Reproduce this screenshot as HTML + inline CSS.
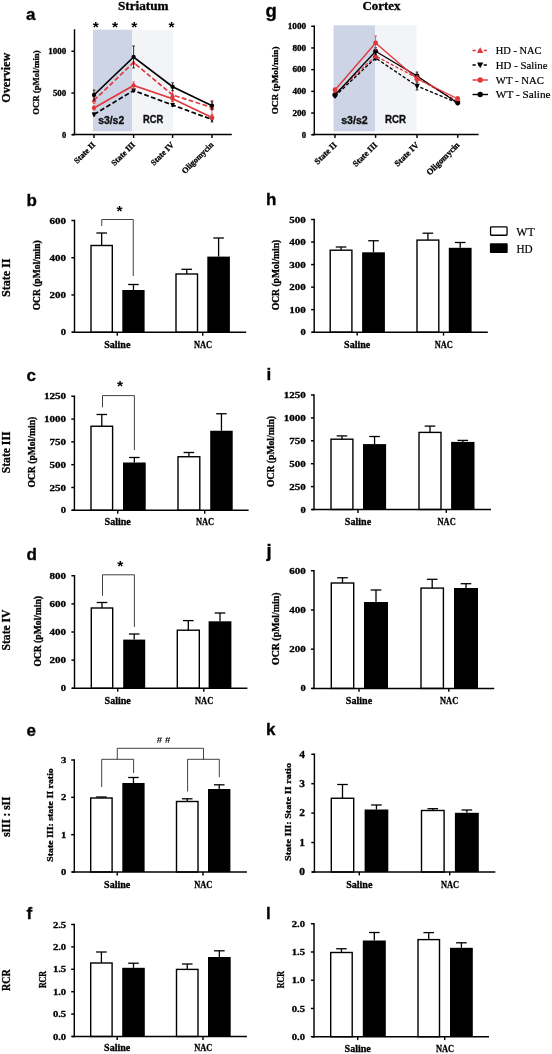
<!DOCTYPE html>
<html lang="en"><head><meta charset="utf-8"><title>Figure: Striatum and Cortex respiration</title>
<style>html,body{margin:0;padding:0;background:#fff}svg{display:block}.s{font-family:"Liberation Serif", serif;font-weight:bold;stroke:#000;stroke-width:.3px}.n{font-family:"Liberation Serif", serif;font-weight:normal;stroke:#000;stroke-width:.2px}.a{font-family:"Liberation Sans", sans-serif;font-weight:bold}.b{font-family:"Liberation Sans", sans-serif;font-weight:bold;stroke:#111;stroke-width:.35px}</style></head><body>
<svg width="552" height="1054" viewBox="0 0 552 1054">
<rect width="552" height="1054" fill="#fff"/>
<text class="s" x="118.00" y="9.50" font-size="12" textLength="50.5" lengthAdjust="spacingAndGlyphs">Striatum</text>
<text class="s" x="362.50" y="9.50" font-size="12" textLength="38.0" lengthAdjust="spacingAndGlyphs">Cortex</text>
<text class="s" x="10.00" y="77.70" font-size="12" text-anchor="middle" textLength="50.0" lengthAdjust="spacingAndGlyphs" transform="rotate(-90 10.00 77.70)">Overview</text>
<!-- panel a -->
<text class="b" x="25.90" y="20.20" font-size="17">a</text>
<rect x="93" y="29.7" width="39.00" height="101.60" fill="#ccd4e5"/>
<rect x="132" y="29.7" width="41.00" height="101.60" fill="#f3f4f7"/>
<text class="b" x="98.20" y="124.00" font-size="10.3" textLength="26.0" lengthAdjust="spacingAndGlyphs" fill="#111">s3/s2</text>
<text class="b" x="143.00" y="122.70" font-size="10.3" textLength="20.3" lengthAdjust="spacingAndGlyphs" fill="#111">RCR</text>
<line x1="74.50" y1="29.27" x2="74.50" y2="135.22" stroke="#000" stroke-width="1.45"/>
<line x1="72.00" y1="134.50" x2="231.80" y2="134.50" stroke="#000" stroke-width="1.45"/>
<line x1="71.40" y1="51.25" x2="74.50" y2="51.25" stroke="#000" stroke-width="1.45"/>
<text class="s" x="66.20" y="54.00" font-size="8.2" text-anchor="end" textLength="17.9" lengthAdjust="spacingAndGlyphs">1000</text>
<line x1="71.40" y1="93.00" x2="74.50" y2="93.00" stroke="#000" stroke-width="1.45"/>
<text class="s" x="66.20" y="95.75" font-size="8.2" text-anchor="end" textLength="13.3" lengthAdjust="spacingAndGlyphs">500</text>
<line x1="71.40" y1="134.75" x2="74.50" y2="134.75" stroke="#000" stroke-width="1.45"/>
<text class="s" x="66.20" y="137.50" font-size="8.2" text-anchor="end" textLength="4.2" lengthAdjust="spacingAndGlyphs">0</text>
<line x1="94.00" y1="134.50" x2="94.00" y2="137.90" stroke="#000" stroke-width="1.45"/>
<line x1="133.60" y1="134.50" x2="133.60" y2="137.90" stroke="#000" stroke-width="1.45"/>
<line x1="172.60" y1="134.50" x2="172.60" y2="137.90" stroke="#000" stroke-width="1.45"/>
<line x1="212.00" y1="134.50" x2="212.00" y2="137.90" stroke="#000" stroke-width="1.45"/>
<line x1="94.00" y1="113.00" x2="94.00" y2="116.00" stroke="#000" stroke-width="0.8"/>
<line x1="92.70" y1="113.00" x2="95.30" y2="113.00" stroke="#000" stroke-width="0.8"/>
<line x1="92.70" y1="116.00" x2="95.30" y2="116.00" stroke="#000" stroke-width="0.8"/>
<line x1="133.60" y1="89.00" x2="133.60" y2="92.00" stroke="#000" stroke-width="0.8"/>
<line x1="132.30" y1="89.00" x2="134.90" y2="89.00" stroke="#000" stroke-width="0.8"/>
<line x1="132.30" y1="92.00" x2="134.90" y2="92.00" stroke="#000" stroke-width="0.8"/>
<line x1="172.60" y1="103.50" x2="172.60" y2="106.50" stroke="#000" stroke-width="0.8"/>
<line x1="171.30" y1="103.50" x2="173.90" y2="103.50" stroke="#000" stroke-width="0.8"/>
<line x1="171.30" y1="106.50" x2="173.90" y2="106.50" stroke="#000" stroke-width="0.8"/>
<line x1="212.00" y1="117.00" x2="212.00" y2="122.00" stroke="#000" stroke-width="0.8"/>
<line x1="210.70" y1="117.00" x2="213.30" y2="117.00" stroke="#000" stroke-width="0.8"/>
<line x1="210.70" y1="122.00" x2="213.30" y2="122.00" stroke="#000" stroke-width="0.8"/>
<polyline points="94.00,114.50 133.60,90.50 172.60,105.00 212.00,119.50" fill="none" stroke="#000" stroke-width="1.7" stroke-dasharray="4.8 2.4"/>
<polygon points="91.53,112.60 96.47,112.60 94.00,117.06" fill="#000"/>
<polygon points="131.13,88.60 136.07,88.60 133.60,93.06" fill="#000"/>
<polygon points="170.13,103.10 175.07,103.10 172.60,107.56" fill="#000"/>
<polygon points="209.53,117.60 214.47,117.60 212.00,122.06" fill="#000"/>
<line x1="94.00" y1="106.00" x2="94.00" y2="110.00" stroke="#e0383c" stroke-width="0.8"/>
<line x1="92.70" y1="106.00" x2="95.30" y2="106.00" stroke="#e0383c" stroke-width="0.8"/>
<line x1="92.70" y1="110.00" x2="95.30" y2="110.00" stroke="#e0383c" stroke-width="0.8"/>
<line x1="133.60" y1="82.00" x2="133.60" y2="89.00" stroke="#e0383c" stroke-width="0.8"/>
<line x1="132.30" y1="82.00" x2="134.90" y2="82.00" stroke="#e0383c" stroke-width="0.8"/>
<line x1="132.30" y1="89.00" x2="134.90" y2="89.00" stroke="#e0383c" stroke-width="0.8"/>
<line x1="172.60" y1="96.25" x2="172.60" y2="101.25" stroke="#e0383c" stroke-width="0.8"/>
<line x1="171.30" y1="96.25" x2="173.90" y2="96.25" stroke="#e0383c" stroke-width="0.8"/>
<line x1="171.30" y1="101.25" x2="173.90" y2="101.25" stroke="#e0383c" stroke-width="0.8"/>
<line x1="212.00" y1="115.50" x2="212.00" y2="119.50" stroke="#e0383c" stroke-width="0.8"/>
<line x1="210.70" y1="115.50" x2="213.30" y2="115.50" stroke="#e0383c" stroke-width="0.8"/>
<line x1="210.70" y1="119.50" x2="213.30" y2="119.50" stroke="#e0383c" stroke-width="0.8"/>
<polyline points="94.00,108.00 133.60,85.50 172.60,98.75 212.00,117.50" fill="none" stroke="#e0383c" stroke-width="1.7"/>
<circle cx="94.00" cy="108.00" r="2.14" fill="#e0383c"/>
<circle cx="133.60" cy="85.50" r="2.14" fill="#e0383c"/>
<circle cx="172.60" cy="98.75" r="2.14" fill="#e0383c"/>
<circle cx="212.00" cy="117.50" r="2.14" fill="#e0383c"/>
<line x1="94.00" y1="97.30" x2="94.00" y2="103.30" stroke="#e0383c" stroke-width="0.8"/>
<line x1="92.70" y1="97.30" x2="95.30" y2="97.30" stroke="#e0383c" stroke-width="0.8"/>
<line x1="92.70" y1="103.30" x2="95.30" y2="103.30" stroke="#e0383c" stroke-width="0.8"/>
<line x1="172.60" y1="88.00" x2="172.60" y2="102.00" stroke="#e0383c" stroke-width="0.8"/>
<line x1="171.30" y1="88.00" x2="173.90" y2="88.00" stroke="#e0383c" stroke-width="0.8"/>
<line x1="171.30" y1="102.00" x2="173.90" y2="102.00" stroke="#e0383c" stroke-width="0.8"/>
<line x1="212.00" y1="100.50" x2="212.00" y2="114.50" stroke="#e0383c" stroke-width="0.8"/>
<line x1="210.70" y1="100.50" x2="213.30" y2="100.50" stroke="#e0383c" stroke-width="0.8"/>
<line x1="210.70" y1="114.50" x2="213.30" y2="114.50" stroke="#e0383c" stroke-width="0.8"/>
<polyline points="94.00,100.30 133.60,62.50 172.60,95.00 212.00,107.50" fill="none" stroke="#e0383c" stroke-width="1.7" stroke-dasharray="4.8 2.4"/>
<polygon points="91.53,102.20 96.47,102.20 94.00,97.73" fill="#e0383c"/>
<polygon points="131.13,64.40 136.07,64.40 133.60,59.94" fill="#e0383c"/>
<polygon points="170.13,96.90 175.07,96.90 172.60,92.44" fill="#e0383c"/>
<polygon points="209.53,109.40 214.47,109.40 212.00,104.94" fill="#e0383c"/>
<line x1="94.00" y1="90.00" x2="94.00" y2="100.00" stroke="#000" stroke-width="0.8"/>
<line x1="92.70" y1="90.00" x2="95.30" y2="90.00" stroke="#000" stroke-width="0.8"/>
<line x1="92.70" y1="100.00" x2="95.30" y2="100.00" stroke="#000" stroke-width="0.8"/>
<line x1="133.60" y1="46.00" x2="133.60" y2="68.00" stroke="#000" stroke-width="0.8"/>
<line x1="132.30" y1="46.00" x2="134.90" y2="46.00" stroke="#000" stroke-width="0.8"/>
<line x1="132.30" y1="68.00" x2="134.90" y2="68.00" stroke="#000" stroke-width="0.8"/>
<line x1="172.60" y1="82.75" x2="172.60" y2="90.75" stroke="#000" stroke-width="0.8"/>
<line x1="171.30" y1="82.75" x2="173.90" y2="82.75" stroke="#000" stroke-width="0.8"/>
<line x1="171.30" y1="90.75" x2="173.90" y2="90.75" stroke="#000" stroke-width="0.8"/>
<line x1="212.00" y1="101.75" x2="212.00" y2="109.75" stroke="#000" stroke-width="0.8"/>
<line x1="210.70" y1="101.75" x2="213.30" y2="101.75" stroke="#000" stroke-width="0.8"/>
<line x1="210.70" y1="109.75" x2="213.30" y2="109.75" stroke="#000" stroke-width="0.8"/>
<polyline points="94.00,95.00 133.60,57.00 172.60,86.75 212.00,105.75" fill="none" stroke="#000" stroke-width="1.7"/>
<circle cx="94.00" cy="95.00" r="2.14" fill="#000"/>
<circle cx="133.60" cy="57.00" r="2.14" fill="#000"/>
<circle cx="172.60" cy="86.75" r="2.14" fill="#000"/>
<circle cx="212.00" cy="105.75" r="2.14" fill="#000"/>
<text class="s" x="95.90" y="145.30" font-size="8.25" text-anchor="end" transform="rotate(-45 95.90 145.30)">State II</text>
<text class="s" x="135.50" y="145.30" font-size="8.25" text-anchor="end" transform="rotate(-45 135.50 145.30)">State III</text>
<text class="s" x="174.50" y="145.30" font-size="8.25" text-anchor="end" transform="rotate(-45 174.50 145.30)">State IV</text>
<text class="s" x="213.90" y="145.30" font-size="8.25" text-anchor="end" transform="rotate(-45 213.90 145.30)">Oligomycin</text>
<text class="s" x="39.00" y="82.60" font-size="9" text-anchor="middle" textLength="64.4" lengthAdjust="spacingAndGlyphs" transform="rotate(-90 39.00 82.60)">OCR (pMol/min)</text>
<text class="a" x="95.70" y="32.36" font-size="15.5" text-anchor="middle">*</text>
<text class="a" x="115.00" y="32.36" font-size="15.5" text-anchor="middle">*</text>
<text class="a" x="134.30" y="32.36" font-size="15.5" text-anchor="middle">*</text>
<text class="a" x="171.40" y="32.36" font-size="15.5" text-anchor="middle">*</text>
<!-- panel g -->
<text class="b" x="265.60" y="16.70" font-size="18.5">g</text>
<rect x="333.5" y="25.3" width="41.50" height="106.00" fill="#ccd4e5"/>
<rect x="375" y="25.3" width="41.50" height="106.00" fill="#f3f4f7"/>
<text class="b" x="341.20" y="124.00" font-size="10.3" textLength="26.5" lengthAdjust="spacingAndGlyphs" fill="#111">s3/s2</text>
<text class="b" x="385.00" y="122.70" font-size="10.3" textLength="21.0" lengthAdjust="spacingAndGlyphs" fill="#111">RCR</text>
<line x1="314.30" y1="25.52" x2="314.30" y2="135.22" stroke="#000" stroke-width="1.45"/>
<line x1="312.00" y1="134.50" x2="478.60" y2="134.50" stroke="#000" stroke-width="1.45"/>
<line x1="311.20" y1="26.25" x2="314.30" y2="26.25" stroke="#000" stroke-width="1.45"/>
<text class="s" x="306.20" y="29.00" font-size="8.2" text-anchor="end" textLength="18.5" lengthAdjust="spacingAndGlyphs">1000</text>
<line x1="311.20" y1="47.95" x2="314.30" y2="47.95" stroke="#000" stroke-width="1.45"/>
<text class="s" x="306.20" y="50.70" font-size="8.2" text-anchor="end" textLength="13.8" lengthAdjust="spacingAndGlyphs">800</text>
<line x1="311.20" y1="69.65" x2="314.30" y2="69.65" stroke="#000" stroke-width="1.45"/>
<text class="s" x="306.20" y="72.40" font-size="8.2" text-anchor="end" textLength="13.8" lengthAdjust="spacingAndGlyphs">600</text>
<line x1="311.20" y1="91.35" x2="314.30" y2="91.35" stroke="#000" stroke-width="1.45"/>
<text class="s" x="306.20" y="94.10" font-size="8.2" text-anchor="end" textLength="13.8" lengthAdjust="spacingAndGlyphs">400</text>
<line x1="311.20" y1="113.05" x2="314.30" y2="113.05" stroke="#000" stroke-width="1.45"/>
<text class="s" x="306.20" y="115.80" font-size="8.2" text-anchor="end" textLength="13.8" lengthAdjust="spacingAndGlyphs">200</text>
<line x1="311.20" y1="134.75" x2="314.30" y2="134.75" stroke="#000" stroke-width="1.45"/>
<text class="s" x="306.20" y="137.50" font-size="8.2" text-anchor="end" textLength="4.4" lengthAdjust="spacingAndGlyphs">0</text>
<line x1="335.00" y1="134.50" x2="335.00" y2="137.90" stroke="#000" stroke-width="1.45"/>
<line x1="375.60" y1="134.50" x2="375.60" y2="137.90" stroke="#000" stroke-width="1.45"/>
<line x1="417.00" y1="134.50" x2="417.00" y2="137.90" stroke="#000" stroke-width="1.45"/>
<line x1="457.70" y1="134.50" x2="457.70" y2="137.90" stroke="#000" stroke-width="1.45"/>
<line x1="335.00" y1="94.50" x2="335.00" y2="97.50" stroke="#000" stroke-width="0.8"/>
<line x1="333.70" y1="94.50" x2="336.30" y2="94.50" stroke="#000" stroke-width="0.8"/>
<line x1="333.70" y1="97.50" x2="336.30" y2="97.50" stroke="#000" stroke-width="0.8"/>
<line x1="375.60" y1="56.00" x2="375.60" y2="60.00" stroke="#000" stroke-width="0.8"/>
<line x1="374.30" y1="56.00" x2="376.90" y2="56.00" stroke="#000" stroke-width="0.8"/>
<line x1="374.30" y1="60.00" x2="376.90" y2="60.00" stroke="#000" stroke-width="0.8"/>
<line x1="417.00" y1="82.00" x2="417.00" y2="90.00" stroke="#000" stroke-width="0.8"/>
<line x1="415.70" y1="82.00" x2="418.30" y2="82.00" stroke="#000" stroke-width="0.8"/>
<line x1="415.70" y1="90.00" x2="418.30" y2="90.00" stroke="#000" stroke-width="0.8"/>
<line x1="457.70" y1="101.50" x2="457.70" y2="104.50" stroke="#000" stroke-width="0.8"/>
<line x1="456.40" y1="101.50" x2="459.00" y2="101.50" stroke="#000" stroke-width="0.8"/>
<line x1="456.40" y1="104.50" x2="459.00" y2="104.50" stroke="#000" stroke-width="0.8"/>
<polyline points="335.00,96.00 375.60,58.00 417.00,86.00 457.70,103.00" fill="none" stroke="#000" stroke-width="1.35" stroke-dasharray="3.3 1.9"/>
<polygon points="332.14,93.80 337.86,93.80 335.00,98.97" fill="#000"/>
<polygon points="372.74,55.80 378.46,55.80 375.60,60.97" fill="#000"/>
<polygon points="414.14,83.80 419.86,83.80 417.00,88.97" fill="#000"/>
<polygon points="454.84,100.80 460.56,100.80 457.70,105.97" fill="#000"/>
<line x1="335.00" y1="92.50" x2="335.00" y2="95.50" stroke="#e0383c" stroke-width="0.8"/>
<line x1="333.70" y1="92.50" x2="336.30" y2="92.50" stroke="#e0383c" stroke-width="0.8"/>
<line x1="333.70" y1="95.50" x2="336.30" y2="95.50" stroke="#e0383c" stroke-width="0.8"/>
<line x1="375.60" y1="54.00" x2="375.60" y2="58.00" stroke="#e0383c" stroke-width="0.8"/>
<line x1="374.30" y1="54.00" x2="376.90" y2="54.00" stroke="#e0383c" stroke-width="0.8"/>
<line x1="374.30" y1="58.00" x2="376.90" y2="58.00" stroke="#e0383c" stroke-width="0.8"/>
<line x1="417.00" y1="75.00" x2="417.00" y2="81.00" stroke="#e0383c" stroke-width="0.8"/>
<line x1="415.70" y1="75.00" x2="418.30" y2="75.00" stroke="#e0383c" stroke-width="0.8"/>
<line x1="415.70" y1="81.00" x2="418.30" y2="81.00" stroke="#e0383c" stroke-width="0.8"/>
<line x1="457.70" y1="100.00" x2="457.70" y2="103.00" stroke="#e0383c" stroke-width="0.8"/>
<line x1="456.40" y1="100.00" x2="459.00" y2="100.00" stroke="#e0383c" stroke-width="0.8"/>
<line x1="456.40" y1="103.00" x2="459.00" y2="103.00" stroke="#e0383c" stroke-width="0.8"/>
<polyline points="335.00,94.00 375.60,56.00 417.00,78.00 457.70,101.50" fill="none" stroke="#e0383c" stroke-width="1.35" stroke-dasharray="3.3 1.9"/>
<polygon points="332.14,96.20 337.86,96.20 335.00,91.03" fill="#e0383c"/>
<polygon points="372.74,58.20 378.46,58.20 375.60,53.03" fill="#e0383c"/>
<polygon points="414.14,80.20 419.86,80.20 417.00,75.03" fill="#e0383c"/>
<polygon points="454.84,103.70 460.56,103.70 457.70,98.53" fill="#e0383c"/>
<line x1="335.00" y1="93.50" x2="335.00" y2="96.50" stroke="#000" stroke-width="0.8"/>
<line x1="333.70" y1="93.50" x2="336.30" y2="93.50" stroke="#000" stroke-width="0.8"/>
<line x1="333.70" y1="96.50" x2="336.30" y2="96.50" stroke="#000" stroke-width="0.8"/>
<line x1="375.60" y1="47.75" x2="375.60" y2="54.75" stroke="#000" stroke-width="0.8"/>
<line x1="374.30" y1="47.75" x2="376.90" y2="47.75" stroke="#000" stroke-width="0.8"/>
<line x1="374.30" y1="54.75" x2="376.90" y2="54.75" stroke="#000" stroke-width="0.8"/>
<line x1="417.00" y1="72.00" x2="417.00" y2="80.00" stroke="#000" stroke-width="0.8"/>
<line x1="415.70" y1="72.00" x2="418.30" y2="72.00" stroke="#000" stroke-width="0.8"/>
<line x1="415.70" y1="80.00" x2="418.30" y2="80.00" stroke="#000" stroke-width="0.8"/>
<line x1="457.70" y1="101.50" x2="457.70" y2="104.50" stroke="#000" stroke-width="0.8"/>
<line x1="456.40" y1="101.50" x2="459.00" y2="101.50" stroke="#000" stroke-width="0.8"/>
<line x1="456.40" y1="104.50" x2="459.00" y2="104.50" stroke="#000" stroke-width="0.8"/>
<polyline points="335.00,95.00 375.60,51.25 417.00,76.00 457.70,103.00" fill="none" stroke="#000" stroke-width="1.35"/>
<circle cx="335.00" cy="95.00" r="2.48" fill="#000"/>
<circle cx="375.60" cy="51.25" r="2.48" fill="#000"/>
<circle cx="417.00" cy="76.00" r="2.48" fill="#000"/>
<circle cx="457.70" cy="103.00" r="2.48" fill="#000"/>
<line x1="335.00" y1="88.00" x2="335.00" y2="92.00" stroke="#e0383c" stroke-width="0.8"/>
<line x1="333.70" y1="88.00" x2="336.30" y2="88.00" stroke="#e0383c" stroke-width="0.8"/>
<line x1="333.70" y1="92.00" x2="336.30" y2="92.00" stroke="#e0383c" stroke-width="0.8"/>
<line x1="375.60" y1="36.00" x2="375.60" y2="50.00" stroke="#e0383c" stroke-width="0.8"/>
<line x1="374.30" y1="36.00" x2="376.90" y2="36.00" stroke="#e0383c" stroke-width="0.8"/>
<line x1="374.30" y1="50.00" x2="376.90" y2="50.00" stroke="#e0383c" stroke-width="0.8"/>
<line x1="417.00" y1="75.75" x2="417.00" y2="81.75" stroke="#e0383c" stroke-width="0.8"/>
<line x1="415.70" y1="75.75" x2="418.30" y2="75.75" stroke="#e0383c" stroke-width="0.8"/>
<line x1="415.70" y1="81.75" x2="418.30" y2="81.75" stroke="#e0383c" stroke-width="0.8"/>
<line x1="457.70" y1="96.75" x2="457.70" y2="100.75" stroke="#e0383c" stroke-width="0.8"/>
<line x1="456.40" y1="96.75" x2="459.00" y2="96.75" stroke="#e0383c" stroke-width="0.8"/>
<line x1="456.40" y1="100.75" x2="459.00" y2="100.75" stroke="#e0383c" stroke-width="0.8"/>
<polyline points="335.00,90.00 375.60,43.00 417.00,78.75 457.70,98.75" fill="none" stroke="#e0383c" stroke-width="1.35"/>
<circle cx="335.00" cy="90.00" r="2.48" fill="#e0383c"/>
<circle cx="375.60" cy="43.00" r="2.48" fill="#e0383c"/>
<circle cx="417.00" cy="78.75" r="2.48" fill="#e0383c"/>
<circle cx="457.70" cy="98.75" r="2.48" fill="#e0383c"/>
<text class="s" x="337.30" y="145.50" font-size="8.65" text-anchor="end" transform="rotate(-45 337.30 145.50)">State II</text>
<text class="s" x="377.90" y="145.50" font-size="8.65" text-anchor="end" transform="rotate(-45 377.90 145.50)">State III</text>
<text class="s" x="419.30" y="145.50" font-size="8.65" text-anchor="end" transform="rotate(-45 419.30 145.50)">State IV</text>
<text class="s" x="460.00" y="145.50" font-size="8.65" text-anchor="end" transform="rotate(-45 460.00 145.50)">Oligomycin</text>
<text class="s" x="278.30" y="80.40" font-size="9" text-anchor="middle" textLength="67.8" lengthAdjust="spacingAndGlyphs" transform="rotate(-90 278.30 80.40)">OCR (pMol/min)</text>
<line x1="472.5" y1="50.5" x2="488" y2="50.5" stroke="#e0383c" stroke-width="1.4" stroke-dasharray="3.2 2.4"/>
<polygon points="477.08,52.90 483.32,52.90 480.20,47.26" fill="#e0383c"/>
<text class="n" x="495.80" y="54.10" font-size="10.8" textLength="45.6" lengthAdjust="spacingAndGlyphs">HD - NAC</text>
<line x1="472.5" y1="65" x2="488" y2="65" stroke="#000" stroke-width="1.4" stroke-dasharray="3.2 2.4"/>
<polygon points="477.08,62.60 483.32,62.60 480.20,68.24" fill="#000"/>
<text class="n" x="495.80" y="68.60" font-size="10.8" textLength="51.7" lengthAdjust="spacingAndGlyphs">HD - Saline</text>
<line x1="472.5" y1="80" x2="488" y2="80" stroke="#e0383c" stroke-width="1.4"/>
<circle cx="480.20" cy="80.00" r="2.70" fill="#e0383c"/>
<text class="n" x="495.80" y="83.60" font-size="10.8" textLength="48.0" lengthAdjust="spacingAndGlyphs">WT - NAC</text>
<line x1="472.5" y1="94.5" x2="488" y2="94.5" stroke="#000" stroke-width="1.4"/>
<circle cx="480.20" cy="94.50" r="2.70" fill="#000"/>
<text class="n" x="495.80" y="98.10" font-size="10.8" textLength="54.8" lengthAdjust="spacingAndGlyphs">WT - Saline</text>
<!-- panel b -->
<text class="b" x="26.60" y="205.70" font-size="17">b</text>
<rect x="91.00" y="245.50" width="21.30" height="86.80" fill="#fff" stroke="#000" stroke-width="1.4"/>
<line x1="101.65" y1="233.00" x2="101.65" y2="245.50" stroke="#000" stroke-width="1.3"/>
<line x1="96.35" y1="233.00" x2="106.95" y2="233.00" stroke="#000" stroke-width="1.3"/>
<rect x="122.30" y="290.00" width="22.30" height="42.30" fill="#000"/>
<line x1="133.45" y1="284.50" x2="133.45" y2="290.00" stroke="#000" stroke-width="1.3"/>
<line x1="128.15" y1="284.50" x2="138.75" y2="284.50" stroke="#000" stroke-width="1.3"/>
<rect x="176.00" y="274.00" width="21.50" height="58.30" fill="#fff" stroke="#000" stroke-width="1.4"/>
<line x1="186.75" y1="269.30" x2="186.75" y2="274.00" stroke="#000" stroke-width="1.3"/>
<line x1="181.45" y1="269.30" x2="192.05" y2="269.30" stroke="#000" stroke-width="1.3"/>
<rect x="207.30" y="256.60" width="22.60" height="75.70" fill="#000"/>
<line x1="218.60" y1="238.00" x2="218.60" y2="256.60" stroke="#000" stroke-width="1.3"/>
<line x1="213.30" y1="238.00" x2="223.90" y2="238.00" stroke="#000" stroke-width="1.3"/>
<line x1="74.50" y1="219.78" x2="74.50" y2="333.03" stroke="#000" stroke-width="1.45"/>
<line x1="72.00" y1="332.30" x2="246.20" y2="332.30" stroke="#000" stroke-width="1.45"/>
<line x1="71.40" y1="220.50" x2="74.50" y2="220.50" stroke="#000" stroke-width="1.45"/>
<text class="s" x="66.00" y="223.58" font-size="9.2" text-anchor="end" textLength="16.5" lengthAdjust="spacingAndGlyphs">600</text>
<line x1="71.40" y1="257.73" x2="74.50" y2="257.73" stroke="#000" stroke-width="1.45"/>
<text class="s" x="66.00" y="260.82" font-size="9.2" text-anchor="end" textLength="16.5" lengthAdjust="spacingAndGlyphs">400</text>
<line x1="71.40" y1="294.97" x2="74.50" y2="294.97" stroke="#000" stroke-width="1.45"/>
<text class="s" x="66.00" y="298.05" font-size="9.2" text-anchor="end" textLength="16.5" lengthAdjust="spacingAndGlyphs">200</text>
<line x1="71.40" y1="332.20" x2="74.50" y2="332.20" stroke="#000" stroke-width="1.45"/>
<text class="s" x="66.00" y="335.28" font-size="9.2" text-anchor="end" textLength="5.3" lengthAdjust="spacingAndGlyphs">0</text>
<line x1="117.30" y1="332.30" x2="117.30" y2="335.70" stroke="#000" stroke-width="1.45"/>
<line x1="202.70" y1="332.30" x2="202.70" y2="335.70" stroke="#000" stroke-width="1.45"/>
<text class="s" x="117.30" y="347.70" font-size="10" text-anchor="middle" textLength="26.3" lengthAdjust="spacingAndGlyphs">Saline</text>
<text class="s" x="203.00" y="347.70" font-size="10" text-anchor="middle" textLength="18.2" lengthAdjust="spacingAndGlyphs">NAC</text>
<text class="s" x="40.30" y="275.30" font-size="9.5" text-anchor="middle" textLength="70.0" lengthAdjust="spacingAndGlyphs" transform="rotate(-90 40.30 275.30)">OCR (pMol/min)</text>
<text class="s" x="10.10" y="277.80" font-size="12" text-anchor="middle" textLength="38.3" lengthAdjust="spacingAndGlyphs" transform="rotate(-90 10.10 277.80)">State II</text>
<!-- panel c -->
<text class="b" x="26.60" y="381.20" font-size="17">c</text>
<rect x="91.00" y="426.25" width="21.60" height="84.05" fill="#fff" stroke="#000" stroke-width="1.4"/>
<line x1="101.80" y1="414.50" x2="101.80" y2="426.25" stroke="#000" stroke-width="1.3"/>
<line x1="96.50" y1="414.50" x2="107.10" y2="414.50" stroke="#000" stroke-width="1.3"/>
<rect x="123.00" y="462.50" width="22.70" height="47.80" fill="#000"/>
<line x1="134.35" y1="457.50" x2="134.35" y2="462.50" stroke="#000" stroke-width="1.3"/>
<line x1="129.05" y1="457.50" x2="139.65" y2="457.50" stroke="#000" stroke-width="1.3"/>
<rect x="178.00" y="456.75" width="21.80" height="53.55" fill="#fff" stroke="#000" stroke-width="1.4"/>
<line x1="188.90" y1="452.50" x2="188.90" y2="456.75" stroke="#000" stroke-width="1.3"/>
<line x1="183.60" y1="452.50" x2="194.20" y2="452.50" stroke="#000" stroke-width="1.3"/>
<rect x="210.20" y="430.75" width="22.50" height="79.55" fill="#000"/>
<line x1="221.45" y1="413.75" x2="221.45" y2="430.75" stroke="#000" stroke-width="1.3"/>
<line x1="216.15" y1="413.75" x2="226.75" y2="413.75" stroke="#000" stroke-width="1.3"/>
<line x1="74.40" y1="395.52" x2="74.40" y2="511.03" stroke="#000" stroke-width="1.45"/>
<line x1="72.00" y1="510.30" x2="248.60" y2="510.30" stroke="#000" stroke-width="1.45"/>
<line x1="71.30" y1="396.25" x2="74.40" y2="396.25" stroke="#000" stroke-width="1.45"/>
<text class="s" x="66.00" y="399.33" font-size="9.2" text-anchor="end" textLength="22.1" lengthAdjust="spacingAndGlyphs">1250</text>
<line x1="71.30" y1="419.06" x2="74.40" y2="419.06" stroke="#000" stroke-width="1.45"/>
<text class="s" x="66.00" y="422.14" font-size="9.2" text-anchor="end" textLength="22.1" lengthAdjust="spacingAndGlyphs">1000</text>
<line x1="71.30" y1="441.87" x2="74.40" y2="441.87" stroke="#000" stroke-width="1.45"/>
<text class="s" x="66.00" y="444.95" font-size="9.2" text-anchor="end" textLength="16.5" lengthAdjust="spacingAndGlyphs">750</text>
<line x1="71.30" y1="464.68" x2="74.40" y2="464.68" stroke="#000" stroke-width="1.45"/>
<text class="s" x="66.00" y="467.76" font-size="9.2" text-anchor="end" textLength="16.5" lengthAdjust="spacingAndGlyphs">500</text>
<line x1="71.30" y1="487.49" x2="74.40" y2="487.49" stroke="#000" stroke-width="1.45"/>
<text class="s" x="66.00" y="490.57" font-size="9.2" text-anchor="end" textLength="16.5" lengthAdjust="spacingAndGlyphs">250</text>
<line x1="71.30" y1="510.30" x2="74.40" y2="510.30" stroke="#000" stroke-width="1.45"/>
<text class="s" x="66.00" y="513.38" font-size="9.2" text-anchor="end" textLength="5.3" lengthAdjust="spacingAndGlyphs">0</text>
<line x1="117.70" y1="510.30" x2="117.70" y2="513.70" stroke="#000" stroke-width="1.45"/>
<line x1="204.70" y1="510.30" x2="204.70" y2="513.70" stroke="#000" stroke-width="1.45"/>
<text class="s" x="117.70" y="525.40" font-size="10" text-anchor="middle" textLength="26.3" lengthAdjust="spacingAndGlyphs">Saline</text>
<text class="s" x="205.00" y="525.40" font-size="10" text-anchor="middle" textLength="18.2" lengthAdjust="spacingAndGlyphs">NAC</text>
<text class="s" x="34.90" y="452.20" font-size="9.5" text-anchor="middle" textLength="70.8" lengthAdjust="spacingAndGlyphs" transform="rotate(-90 34.90 452.20)">OCR (pMol/min)</text>
<text class="s" x="10.10" y="452.40" font-size="12" text-anchor="middle" textLength="41.7" lengthAdjust="spacingAndGlyphs" transform="rotate(-90 10.10 452.40)">State III</text>
<!-- panel d -->
<text class="b" x="26.60" y="559.70" font-size="17">d</text>
<rect x="91.30" y="608.00" width="21.40" height="80.30" fill="#fff" stroke="#000" stroke-width="1.4"/>
<line x1="102.00" y1="602.50" x2="102.00" y2="608.00" stroke="#000" stroke-width="1.3"/>
<line x1="96.70" y1="602.50" x2="107.30" y2="602.50" stroke="#000" stroke-width="1.3"/>
<rect x="123.20" y="639.60" width="22.00" height="48.70" fill="#000"/>
<line x1="134.20" y1="634.00" x2="134.20" y2="639.60" stroke="#000" stroke-width="1.3"/>
<line x1="128.90" y1="634.00" x2="139.50" y2="634.00" stroke="#000" stroke-width="1.3"/>
<rect x="177.30" y="630.20" width="22.00" height="58.10" fill="#fff" stroke="#000" stroke-width="1.4"/>
<line x1="188.30" y1="620.60" x2="188.30" y2="630.20" stroke="#000" stroke-width="1.3"/>
<line x1="183.00" y1="620.60" x2="193.60" y2="620.60" stroke="#000" stroke-width="1.3"/>
<rect x="208.60" y="621.30" width="22.80" height="67.00" fill="#000"/>
<line x1="220.00" y1="613.00" x2="220.00" y2="621.30" stroke="#000" stroke-width="1.3"/>
<line x1="214.70" y1="613.00" x2="225.30" y2="613.00" stroke="#000" stroke-width="1.3"/>
<line x1="74.50" y1="575.02" x2="74.50" y2="689.02" stroke="#000" stroke-width="1.45"/>
<line x1="72.00" y1="688.30" x2="247.40" y2="688.30" stroke="#000" stroke-width="1.45"/>
<line x1="71.40" y1="575.75" x2="74.50" y2="575.75" stroke="#000" stroke-width="1.45"/>
<text class="s" x="66.00" y="578.83" font-size="9.2" text-anchor="end" textLength="16.5" lengthAdjust="spacingAndGlyphs">800</text>
<line x1="71.40" y1="603.89" x2="74.50" y2="603.89" stroke="#000" stroke-width="1.45"/>
<text class="s" x="66.00" y="606.97" font-size="9.2" text-anchor="end" textLength="16.5" lengthAdjust="spacingAndGlyphs">600</text>
<line x1="71.40" y1="632.02" x2="74.50" y2="632.02" stroke="#000" stroke-width="1.45"/>
<text class="s" x="66.00" y="635.11" font-size="9.2" text-anchor="end" textLength="16.5" lengthAdjust="spacingAndGlyphs">400</text>
<line x1="71.40" y1="660.16" x2="74.50" y2="660.16" stroke="#000" stroke-width="1.45"/>
<text class="s" x="66.00" y="663.24" font-size="9.2" text-anchor="end" textLength="16.5" lengthAdjust="spacingAndGlyphs">200</text>
<line x1="71.40" y1="688.30" x2="74.50" y2="688.30" stroke="#000" stroke-width="1.45"/>
<text class="s" x="66.00" y="691.38" font-size="9.2" text-anchor="end" textLength="5.3" lengthAdjust="spacingAndGlyphs">0</text>
<line x1="117.70" y1="688.30" x2="117.70" y2="691.70" stroke="#000" stroke-width="1.45"/>
<line x1="203.80" y1="688.30" x2="203.80" y2="691.70" stroke="#000" stroke-width="1.45"/>
<text class="s" x="117.70" y="704.10" font-size="10" text-anchor="middle" textLength="26.3" lengthAdjust="spacingAndGlyphs">Saline</text>
<text class="s" x="204.10" y="704.10" font-size="10" text-anchor="middle" textLength="18.2" lengthAdjust="spacingAndGlyphs">NAC</text>
<text class="s" x="40.60" y="631.30" font-size="9.5" text-anchor="middle" textLength="70.5" lengthAdjust="spacingAndGlyphs" transform="rotate(-90 40.60 631.30)">OCR (pMol/min)</text>
<text class="s" x="10.10" y="630.00" font-size="12" text-anchor="middle" textLength="41.0" lengthAdjust="spacingAndGlyphs" transform="rotate(-90 10.10 630.00)">State IV</text>
<!-- panel e -->
<text class="b" x="26.60" y="735.50" font-size="17">e</text>
<rect x="90.70" y="798.00" width="21.40" height="74.00" fill="#fff" stroke="#000" stroke-width="1.4"/>
<line x1="101.40" y1="797.00" x2="101.40" y2="798.00" stroke="#000" stroke-width="1.3"/>
<line x1="96.10" y1="797.00" x2="106.70" y2="797.00" stroke="#000" stroke-width="1.3"/>
<rect x="122.30" y="783.00" width="22.30" height="89.00" fill="#000"/>
<line x1="133.45" y1="777.50" x2="133.45" y2="783.00" stroke="#000" stroke-width="1.3"/>
<line x1="128.15" y1="777.50" x2="138.75" y2="777.50" stroke="#000" stroke-width="1.3"/>
<rect x="176.50" y="801.50" width="21.50" height="70.50" fill="#fff" stroke="#000" stroke-width="1.4"/>
<line x1="187.25" y1="798.80" x2="187.25" y2="801.50" stroke="#000" stroke-width="1.3"/>
<line x1="181.95" y1="798.80" x2="192.55" y2="798.80" stroke="#000" stroke-width="1.3"/>
<rect x="208.00" y="789.00" width="22.40" height="83.00" fill="#000"/>
<line x1="219.20" y1="784.80" x2="219.20" y2="789.00" stroke="#000" stroke-width="1.3"/>
<line x1="213.90" y1="784.80" x2="224.50" y2="784.80" stroke="#000" stroke-width="1.3"/>
<line x1="74.30" y1="759.27" x2="74.30" y2="872.73" stroke="#000" stroke-width="1.45"/>
<line x1="72.00" y1="872.00" x2="246.90" y2="872.00" stroke="#000" stroke-width="1.45"/>
<line x1="71.20" y1="760.00" x2="74.30" y2="760.00" stroke="#000" stroke-width="1.45"/>
<text class="s" x="66.40" y="763.08" font-size="9.2" text-anchor="end" textLength="5.3" lengthAdjust="spacingAndGlyphs">3</text>
<line x1="71.20" y1="797.33" x2="74.30" y2="797.33" stroke="#000" stroke-width="1.45"/>
<text class="s" x="66.40" y="800.42" font-size="9.2" text-anchor="end" textLength="5.3" lengthAdjust="spacingAndGlyphs">2</text>
<line x1="71.20" y1="834.67" x2="74.30" y2="834.67" stroke="#000" stroke-width="1.45"/>
<text class="s" x="66.40" y="837.75" font-size="9.2" text-anchor="end" textLength="5.3" lengthAdjust="spacingAndGlyphs">1</text>
<line x1="71.20" y1="872.00" x2="74.30" y2="872.00" stroke="#000" stroke-width="1.45"/>
<text class="s" x="66.40" y="875.08" font-size="9.2" text-anchor="end" textLength="5.3" lengthAdjust="spacingAndGlyphs">0</text>
<line x1="117.20" y1="872.00" x2="117.20" y2="875.40" stroke="#000" stroke-width="1.45"/>
<line x1="203.00" y1="872.00" x2="203.00" y2="875.40" stroke="#000" stroke-width="1.45"/>
<text class="s" x="117.20" y="887.90" font-size="10" text-anchor="middle" textLength="26.3" lengthAdjust="spacingAndGlyphs">Saline</text>
<text class="s" x="203.30" y="887.90" font-size="10" text-anchor="middle" textLength="18.2" lengthAdjust="spacingAndGlyphs">NAC</text>
<text class="s" x="53.10" y="815.00" font-size="8.8" text-anchor="middle" textLength="93.6" lengthAdjust="spacingAndGlyphs" transform="rotate(-90 53.10 815.00)">State III: state II ratio</text>
<text class="s" x="10.10" y="816.70" font-size="12" text-anchor="middle" textLength="40.2" lengthAdjust="spacingAndGlyphs" transform="rotate(-90 10.10 816.70)">sIII : sII</text>
<!-- panel f -->
<text class="b" x="26.60" y="919.20" font-size="17">f</text>
<rect x="90.70" y="963.00" width="21.40" height="73.50" fill="#fff" stroke="#000" stroke-width="1.4"/>
<line x1="101.40" y1="952.00" x2="101.40" y2="963.00" stroke="#000" stroke-width="1.3"/>
<line x1="96.10" y1="952.00" x2="106.70" y2="952.00" stroke="#000" stroke-width="1.3"/>
<rect x="122.20" y="967.80" width="22.60" height="68.70" fill="#000"/>
<line x1="133.50" y1="963.20" x2="133.50" y2="967.80" stroke="#000" stroke-width="1.3"/>
<line x1="128.20" y1="963.20" x2="138.80" y2="963.20" stroke="#000" stroke-width="1.3"/>
<rect x="176.50" y="969.40" width="21.50" height="67.10" fill="#fff" stroke="#000" stroke-width="1.4"/>
<line x1="187.25" y1="964.00" x2="187.25" y2="969.40" stroke="#000" stroke-width="1.3"/>
<line x1="181.95" y1="964.00" x2="192.55" y2="964.00" stroke="#000" stroke-width="1.3"/>
<rect x="208.00" y="957.00" width="22.70" height="79.50" fill="#000"/>
<line x1="219.35" y1="950.80" x2="219.35" y2="957.00" stroke="#000" stroke-width="1.3"/>
<line x1="214.05" y1="950.80" x2="224.65" y2="950.80" stroke="#000" stroke-width="1.3"/>
<line x1="74.30" y1="923.77" x2="74.30" y2="1037.22" stroke="#000" stroke-width="1.45"/>
<line x1="72.00" y1="1036.50" x2="246.90" y2="1036.50" stroke="#000" stroke-width="1.45"/>
<line x1="71.20" y1="924.50" x2="74.30" y2="924.50" stroke="#000" stroke-width="1.45"/>
<text class="s" x="66.20" y="927.58" font-size="9.2" text-anchor="end" textLength="13.3" lengthAdjust="spacingAndGlyphs">2.5</text>
<line x1="71.20" y1="946.90" x2="74.30" y2="946.90" stroke="#000" stroke-width="1.45"/>
<text class="s" x="66.20" y="949.98" font-size="9.2" text-anchor="end" textLength="13.3" lengthAdjust="spacingAndGlyphs">2.0</text>
<line x1="71.20" y1="969.30" x2="74.30" y2="969.30" stroke="#000" stroke-width="1.45"/>
<text class="s" x="66.20" y="972.38" font-size="9.2" text-anchor="end" textLength="13.3" lengthAdjust="spacingAndGlyphs">1.5</text>
<line x1="71.20" y1="991.70" x2="74.30" y2="991.70" stroke="#000" stroke-width="1.45"/>
<text class="s" x="66.20" y="994.78" font-size="9.2" text-anchor="end" textLength="13.3" lengthAdjust="spacingAndGlyphs">1.0</text>
<line x1="71.20" y1="1014.10" x2="74.30" y2="1014.10" stroke="#000" stroke-width="1.45"/>
<text class="s" x="66.20" y="1017.18" font-size="9.2" text-anchor="end" textLength="13.3" lengthAdjust="spacingAndGlyphs">0.5</text>
<line x1="71.20" y1="1036.50" x2="74.30" y2="1036.50" stroke="#000" stroke-width="1.45"/>
<text class="s" x="66.20" y="1039.58" font-size="9.2" text-anchor="end" textLength="13.3" lengthAdjust="spacingAndGlyphs">0.0</text>
<line x1="117.20" y1="1036.50" x2="117.20" y2="1039.90" stroke="#000" stroke-width="1.45"/>
<line x1="203.00" y1="1036.50" x2="203.00" y2="1039.90" stroke="#000" stroke-width="1.45"/>
<text class="s" x="117.20" y="1051.40" font-size="10" text-anchor="middle" textLength="26.3" lengthAdjust="spacingAndGlyphs">Saline</text>
<text class="s" x="203.30" y="1051.40" font-size="10" text-anchor="middle" textLength="18.2" lengthAdjust="spacingAndGlyphs">NAC</text>
<text class="s" x="46.00" y="979.50" font-size="9.5" text-anchor="middle" textLength="17.2" lengthAdjust="spacingAndGlyphs" transform="rotate(-90 46.00 979.50)">RCR</text>
<text class="s" x="10.40" y="980.20" font-size="12" text-anchor="middle" textLength="21.5" lengthAdjust="spacingAndGlyphs" transform="rotate(-90 10.40 980.20)">RCR</text>
<!-- panel h -->
<text class="b" x="265.90" y="205.20" font-size="17">h</text>
<rect x="330.20" y="250.20" width="21.70" height="82.00" fill="#fff" stroke="#000" stroke-width="1.4"/>
<line x1="341.05" y1="247.00" x2="341.05" y2="250.20" stroke="#000" stroke-width="1.3"/>
<line x1="335.75" y1="247.00" x2="346.35" y2="247.00" stroke="#000" stroke-width="1.3"/>
<rect x="362.10" y="252.30" width="22.80" height="79.90" fill="#000"/>
<line x1="373.50" y1="240.75" x2="373.50" y2="252.30" stroke="#000" stroke-width="1.3"/>
<line x1="368.20" y1="240.75" x2="378.80" y2="240.75" stroke="#000" stroke-width="1.3"/>
<rect x="417.00" y="240.10" width="21.80" height="92.10" fill="#fff" stroke="#000" stroke-width="1.4"/>
<line x1="427.90" y1="233.20" x2="427.90" y2="240.10" stroke="#000" stroke-width="1.3"/>
<line x1="422.60" y1="233.20" x2="433.20" y2="233.20" stroke="#000" stroke-width="1.3"/>
<rect x="448.80" y="247.80" width="22.80" height="84.40" fill="#000"/>
<line x1="460.20" y1="242.50" x2="460.20" y2="247.80" stroke="#000" stroke-width="1.3"/>
<line x1="454.90" y1="242.50" x2="465.50" y2="242.50" stroke="#000" stroke-width="1.3"/>
<line x1="314.20" y1="218.78" x2="314.20" y2="332.93" stroke="#000" stroke-width="1.45"/>
<line x1="312.00" y1="332.20" x2="487.80" y2="332.20" stroke="#000" stroke-width="1.45"/>
<line x1="311.10" y1="219.50" x2="314.20" y2="219.50" stroke="#000" stroke-width="1.45"/>
<text class="s" x="305.80" y="222.58" font-size="9.2" text-anchor="end" textLength="16.5" lengthAdjust="spacingAndGlyphs">500</text>
<line x1="311.10" y1="242.04" x2="314.20" y2="242.04" stroke="#000" stroke-width="1.45"/>
<text class="s" x="305.80" y="245.12" font-size="9.2" text-anchor="end" textLength="16.5" lengthAdjust="spacingAndGlyphs">400</text>
<line x1="311.10" y1="264.58" x2="314.20" y2="264.58" stroke="#000" stroke-width="1.45"/>
<text class="s" x="305.80" y="267.66" font-size="9.2" text-anchor="end" textLength="16.5" lengthAdjust="spacingAndGlyphs">300</text>
<line x1="311.10" y1="287.12" x2="314.20" y2="287.12" stroke="#000" stroke-width="1.45"/>
<text class="s" x="305.80" y="290.20" font-size="9.2" text-anchor="end" textLength="16.5" lengthAdjust="spacingAndGlyphs">200</text>
<line x1="311.10" y1="309.66" x2="314.20" y2="309.66" stroke="#000" stroke-width="1.45"/>
<text class="s" x="305.80" y="312.74" font-size="9.2" text-anchor="end" textLength="16.5" lengthAdjust="spacingAndGlyphs">100</text>
<line x1="311.10" y1="332.20" x2="314.20" y2="332.20" stroke="#000" stroke-width="1.45"/>
<text class="s" x="305.80" y="335.28" font-size="9.2" text-anchor="end" textLength="5.3" lengthAdjust="spacingAndGlyphs">0</text>
<line x1="357.20" y1="332.20" x2="357.20" y2="335.60" stroke="#000" stroke-width="1.45"/>
<line x1="443.50" y1="332.20" x2="443.50" y2="335.60" stroke="#000" stroke-width="1.45"/>
<text class="s" x="357.20" y="347.70" font-size="10" text-anchor="middle" textLength="26.3" lengthAdjust="spacingAndGlyphs">Saline</text>
<text class="s" x="443.80" y="347.70" font-size="10" text-anchor="middle" textLength="18.2" lengthAdjust="spacingAndGlyphs">NAC</text>
<text class="s" x="279.00" y="275.00" font-size="9.5" text-anchor="middle" textLength="70.6" lengthAdjust="spacingAndGlyphs" transform="rotate(-90 279.00 275.00)">OCR (pMol/min)</text>
<!-- panel i -->
<text class="b" x="266.40" y="380.20" font-size="17">i</text>
<rect x="331.00" y="439.20" width="21.90" height="70.30" fill="#fff" stroke="#000" stroke-width="1.4"/>
<line x1="341.95" y1="435.90" x2="341.95" y2="439.20" stroke="#000" stroke-width="1.3"/>
<line x1="336.65" y1="435.90" x2="347.25" y2="435.90" stroke="#000" stroke-width="1.3"/>
<rect x="363.00" y="444.10" width="23.10" height="65.40" fill="#000"/>
<line x1="374.55" y1="436.50" x2="374.55" y2="444.10" stroke="#000" stroke-width="1.3"/>
<line x1="369.25" y1="436.50" x2="379.85" y2="436.50" stroke="#000" stroke-width="1.3"/>
<rect x="419.00" y="432.40" width="22.00" height="77.10" fill="#fff" stroke="#000" stroke-width="1.4"/>
<line x1="430.00" y1="426.10" x2="430.00" y2="432.40" stroke="#000" stroke-width="1.3"/>
<line x1="424.70" y1="426.10" x2="435.30" y2="426.10" stroke="#000" stroke-width="1.3"/>
<rect x="451.10" y="441.90" width="23.40" height="67.60" fill="#000"/>
<line x1="462.80" y1="440.40" x2="462.80" y2="441.90" stroke="#000" stroke-width="1.3"/>
<line x1="457.50" y1="440.40" x2="468.10" y2="440.40" stroke="#000" stroke-width="1.3"/>
<line x1="314.00" y1="394.27" x2="314.00" y2="510.23" stroke="#000" stroke-width="1.45"/>
<line x1="312.00" y1="509.50" x2="491.00" y2="509.50" stroke="#000" stroke-width="1.45"/>
<line x1="310.90" y1="395.00" x2="314.00" y2="395.00" stroke="#000" stroke-width="1.45"/>
<text class="s" x="305.80" y="398.08" font-size="9.2" text-anchor="end" textLength="22.1" lengthAdjust="spacingAndGlyphs">1250</text>
<line x1="310.90" y1="417.90" x2="314.00" y2="417.90" stroke="#000" stroke-width="1.45"/>
<text class="s" x="305.80" y="420.98" font-size="9.2" text-anchor="end" textLength="22.1" lengthAdjust="spacingAndGlyphs">1000</text>
<line x1="310.90" y1="440.80" x2="314.00" y2="440.80" stroke="#000" stroke-width="1.45"/>
<text class="s" x="305.80" y="443.88" font-size="9.2" text-anchor="end" textLength="16.5" lengthAdjust="spacingAndGlyphs">750</text>
<line x1="310.90" y1="463.70" x2="314.00" y2="463.70" stroke="#000" stroke-width="1.45"/>
<text class="s" x="305.80" y="466.78" font-size="9.2" text-anchor="end" textLength="16.5" lengthAdjust="spacingAndGlyphs">500</text>
<line x1="310.90" y1="486.60" x2="314.00" y2="486.60" stroke="#000" stroke-width="1.45"/>
<text class="s" x="305.80" y="489.68" font-size="9.2" text-anchor="end" textLength="16.5" lengthAdjust="spacingAndGlyphs">250</text>
<line x1="310.90" y1="509.50" x2="314.00" y2="509.50" stroke="#000" stroke-width="1.45"/>
<text class="s" x="305.80" y="512.58" font-size="9.2" text-anchor="end" textLength="5.3" lengthAdjust="spacingAndGlyphs">0</text>
<line x1="358.00" y1="509.50" x2="358.00" y2="512.90" stroke="#000" stroke-width="1.45"/>
<line x1="446.30" y1="509.50" x2="446.30" y2="512.90" stroke="#000" stroke-width="1.45"/>
<text class="s" x="358.00" y="525.40" font-size="10" text-anchor="middle" textLength="26.3" lengthAdjust="spacingAndGlyphs">Saline</text>
<text class="s" x="446.60" y="525.40" font-size="10" text-anchor="middle" textLength="18.2" lengthAdjust="spacingAndGlyphs">NAC</text>
<text class="s" x="274.40" y="451.50" font-size="9.5" text-anchor="middle" textLength="71.0" lengthAdjust="spacingAndGlyphs" transform="rotate(-90 274.40 451.50)">OCR (pMol/min)</text>
<!-- panel j -->
<text class="b" x="266.40" y="556.90" font-size="18.5">j</text>
<rect x="331.30" y="583.00" width="22.40" height="105.40" fill="#fff" stroke="#000" stroke-width="1.4"/>
<line x1="342.50" y1="577.75" x2="342.50" y2="583.00" stroke="#000" stroke-width="1.3"/>
<line x1="337.20" y1="577.75" x2="347.80" y2="577.75" stroke="#000" stroke-width="1.3"/>
<rect x="364.00" y="602.00" width="24.00" height="86.40" fill="#000"/>
<line x1="376.00" y1="590.00" x2="376.00" y2="602.00" stroke="#000" stroke-width="1.3"/>
<line x1="370.70" y1="590.00" x2="381.30" y2="590.00" stroke="#000" stroke-width="1.3"/>
<rect x="421.00" y="588.10" width="22.40" height="100.30" fill="#fff" stroke="#000" stroke-width="1.4"/>
<line x1="432.20" y1="579.30" x2="432.20" y2="588.10" stroke="#000" stroke-width="1.3"/>
<line x1="426.90" y1="579.30" x2="437.50" y2="579.30" stroke="#000" stroke-width="1.3"/>
<rect x="454.00" y="588.00" width="24.00" height="100.40" fill="#000"/>
<line x1="466.00" y1="583.70" x2="466.00" y2="588.00" stroke="#000" stroke-width="1.3"/>
<line x1="460.70" y1="583.70" x2="471.30" y2="583.70" stroke="#000" stroke-width="1.3"/>
<line x1="314.00" y1="570.02" x2="314.00" y2="689.12" stroke="#000" stroke-width="1.45"/>
<line x1="312.00" y1="688.40" x2="494.20" y2="688.40" stroke="#000" stroke-width="1.45"/>
<line x1="310.90" y1="570.75" x2="314.00" y2="570.75" stroke="#000" stroke-width="1.45"/>
<text class="s" x="305.80" y="573.83" font-size="9.2" text-anchor="end" textLength="16.5" lengthAdjust="spacingAndGlyphs">600</text>
<line x1="310.90" y1="609.97" x2="314.00" y2="609.97" stroke="#000" stroke-width="1.45"/>
<text class="s" x="305.80" y="613.05" font-size="9.2" text-anchor="end" textLength="16.5" lengthAdjust="spacingAndGlyphs">400</text>
<line x1="310.90" y1="649.18" x2="314.00" y2="649.18" stroke="#000" stroke-width="1.45"/>
<text class="s" x="305.80" y="652.27" font-size="9.2" text-anchor="end" textLength="16.5" lengthAdjust="spacingAndGlyphs">200</text>
<line x1="310.90" y1="688.40" x2="314.00" y2="688.40" stroke="#000" stroke-width="1.45"/>
<text class="s" x="305.80" y="691.48" font-size="9.2" text-anchor="end" textLength="5.3" lengthAdjust="spacingAndGlyphs">0</text>
<line x1="359.00" y1="688.40" x2="359.00" y2="691.80" stroke="#000" stroke-width="1.45"/>
<line x1="448.80" y1="688.40" x2="448.80" y2="691.80" stroke="#000" stroke-width="1.45"/>
<text class="s" x="359.00" y="704.10" font-size="10" text-anchor="middle" textLength="26.3" lengthAdjust="spacingAndGlyphs">Saline</text>
<text class="s" x="449.10" y="704.10" font-size="10" text-anchor="middle" textLength="18.2" lengthAdjust="spacingAndGlyphs">NAC</text>
<text class="s" x="279.00" y="628.70" font-size="9.5" text-anchor="middle" textLength="72.6" lengthAdjust="spacingAndGlyphs" transform="rotate(-90 279.00 628.70)">OCR (pMol/min)</text>
<!-- panel k -->
<text class="b" x="265.90" y="735.20" font-size="17">k</text>
<rect x="331.30" y="798.25" width="22.40" height="73.75" fill="#fff" stroke="#000" stroke-width="1.4"/>
<line x1="342.50" y1="784.50" x2="342.50" y2="798.25" stroke="#000" stroke-width="1.3"/>
<line x1="337.20" y1="784.50" x2="347.80" y2="784.50" stroke="#000" stroke-width="1.3"/>
<rect x="364.60" y="809.50" width="23.70" height="62.50" fill="#000"/>
<line x1="376.45" y1="805.00" x2="376.45" y2="809.50" stroke="#000" stroke-width="1.3"/>
<line x1="371.15" y1="805.00" x2="381.75" y2="805.00" stroke="#000" stroke-width="1.3"/>
<rect x="421.50" y="810.50" width="22.60" height="61.50" fill="#fff" stroke="#000" stroke-width="1.4"/>
<line x1="432.80" y1="808.70" x2="432.80" y2="810.50" stroke="#000" stroke-width="1.3"/>
<line x1="427.50" y1="808.70" x2="438.10" y2="808.70" stroke="#000" stroke-width="1.3"/>
<rect x="454.90" y="812.80" width="23.90" height="59.20" fill="#000"/>
<line x1="466.85" y1="810.00" x2="466.85" y2="812.80" stroke="#000" stroke-width="1.3"/>
<line x1="461.55" y1="810.00" x2="472.15" y2="810.00" stroke="#000" stroke-width="1.3"/>
<line x1="314.40" y1="753.52" x2="314.40" y2="872.73" stroke="#000" stroke-width="1.45"/>
<line x1="312.00" y1="872.00" x2="495.30" y2="872.00" stroke="#000" stroke-width="1.45"/>
<line x1="311.30" y1="754.25" x2="314.40" y2="754.25" stroke="#000" stroke-width="1.45"/>
<text class="s" x="305.00" y="757.60" font-size="10" text-anchor="end" textLength="5.7" lengthAdjust="spacingAndGlyphs">4</text>
<line x1="311.30" y1="783.69" x2="314.40" y2="783.69" stroke="#000" stroke-width="1.45"/>
<text class="s" x="305.00" y="787.04" font-size="10" text-anchor="end" textLength="5.7" lengthAdjust="spacingAndGlyphs">3</text>
<line x1="311.30" y1="813.12" x2="314.40" y2="813.12" stroke="#000" stroke-width="1.45"/>
<text class="s" x="305.00" y="816.48" font-size="10" text-anchor="end" textLength="5.7" lengthAdjust="spacingAndGlyphs">2</text>
<line x1="311.30" y1="842.56" x2="314.40" y2="842.56" stroke="#000" stroke-width="1.45"/>
<text class="s" x="305.00" y="845.91" font-size="10" text-anchor="end" textLength="5.7" lengthAdjust="spacingAndGlyphs">1</text>
<line x1="311.30" y1="872.00" x2="314.40" y2="872.00" stroke="#000" stroke-width="1.45"/>
<text class="s" x="305.00" y="875.35" font-size="10" text-anchor="end" textLength="5.7" lengthAdjust="spacingAndGlyphs">0</text>
<line x1="359.30" y1="872.00" x2="359.30" y2="875.40" stroke="#000" stroke-width="1.45"/>
<line x1="449.70" y1="872.00" x2="449.70" y2="875.40" stroke="#000" stroke-width="1.45"/>
<text class="s" x="359.30" y="887.90" font-size="10" text-anchor="middle" textLength="26.3" lengthAdjust="spacingAndGlyphs">Saline</text>
<text class="s" x="450.00" y="887.90" font-size="10" text-anchor="middle" textLength="18.2" lengthAdjust="spacingAndGlyphs">NAC</text>
<text class="s" x="290.90" y="812.00" font-size="9.0" text-anchor="middle" textLength="98.0" lengthAdjust="spacingAndGlyphs" transform="rotate(-90 290.90 812.00)">State III: State II ratio</text>
<!-- panel l -->
<text class="b" x="265.90" y="919.20" font-size="17">l</text>
<rect x="330.70" y="952.50" width="21.50" height="84.20" fill="#fff" stroke="#000" stroke-width="1.4"/>
<line x1="341.45" y1="948.75" x2="341.45" y2="952.50" stroke="#000" stroke-width="1.3"/>
<line x1="336.15" y1="948.75" x2="346.75" y2="948.75" stroke="#000" stroke-width="1.3"/>
<rect x="362.80" y="940.50" width="23.00" height="96.20" fill="#000"/>
<line x1="374.30" y1="932.50" x2="374.30" y2="940.50" stroke="#000" stroke-width="1.3"/>
<line x1="369.00" y1="932.50" x2="379.60" y2="932.50" stroke="#000" stroke-width="1.3"/>
<rect x="418.00" y="939.60" width="21.50" height="97.10" fill="#fff" stroke="#000" stroke-width="1.4"/>
<line x1="428.75" y1="932.60" x2="428.75" y2="939.60" stroke="#000" stroke-width="1.3"/>
<line x1="423.45" y1="932.60" x2="434.05" y2="932.60" stroke="#000" stroke-width="1.3"/>
<rect x="450.00" y="947.80" width="22.80" height="88.90" fill="#000"/>
<line x1="461.40" y1="942.80" x2="461.40" y2="947.80" stroke="#000" stroke-width="1.3"/>
<line x1="456.10" y1="942.80" x2="466.70" y2="942.80" stroke="#000" stroke-width="1.3"/>
<line x1="314.00" y1="923.02" x2="314.00" y2="1037.42" stroke="#000" stroke-width="1.45"/>
<line x1="312.00" y1="1036.70" x2="489.00" y2="1036.70" stroke="#000" stroke-width="1.45"/>
<line x1="310.90" y1="923.75" x2="314.00" y2="923.75" stroke="#000" stroke-width="1.45"/>
<text class="s" x="305.00" y="926.83" font-size="9.2" text-anchor="end" textLength="13.3" lengthAdjust="spacingAndGlyphs">2.0</text>
<line x1="310.90" y1="951.99" x2="314.00" y2="951.99" stroke="#000" stroke-width="1.45"/>
<text class="s" x="305.00" y="955.07" font-size="9.2" text-anchor="end" textLength="13.3" lengthAdjust="spacingAndGlyphs">1.5</text>
<line x1="310.90" y1="980.23" x2="314.00" y2="980.23" stroke="#000" stroke-width="1.45"/>
<text class="s" x="305.00" y="983.31" font-size="9.2" text-anchor="end" textLength="13.3" lengthAdjust="spacingAndGlyphs">1.0</text>
<line x1="310.90" y1="1008.46" x2="314.00" y2="1008.46" stroke="#000" stroke-width="1.45"/>
<text class="s" x="305.00" y="1011.54" font-size="9.2" text-anchor="end" textLength="13.3" lengthAdjust="spacingAndGlyphs">0.5</text>
<line x1="310.90" y1="1036.70" x2="314.00" y2="1036.70" stroke="#000" stroke-width="1.45"/>
<text class="s" x="305.00" y="1039.78" font-size="9.2" text-anchor="end" textLength="13.3" lengthAdjust="spacingAndGlyphs">0.0</text>
<line x1="357.70" y1="1036.70" x2="357.70" y2="1040.10" stroke="#000" stroke-width="1.45"/>
<line x1="444.70" y1="1036.70" x2="444.70" y2="1040.10" stroke="#000" stroke-width="1.45"/>
<text class="s" x="357.70" y="1051.90" font-size="10" text-anchor="middle" textLength="26.3" lengthAdjust="spacingAndGlyphs">Saline</text>
<text class="s" x="445.00" y="1051.90" font-size="10" text-anchor="middle" textLength="18.2" lengthAdjust="spacingAndGlyphs">NAC</text>
<text class="s" x="284.20" y="979.70" font-size="9.5" text-anchor="middle" textLength="17.2" lengthAdjust="spacingAndGlyphs" transform="rotate(-90 284.20 979.70)">RCR</text>
<polyline points="101.75,226.00 101.75,219.50 133.25,219.50 133.25,276.00" fill="none" stroke="#111" stroke-width="0.8"/>
<text class="a" x="119.50" y="216.16" font-size="15.5" text-anchor="middle">*</text>
<polyline points="102.50,407.30 102.50,395.60 134.40,395.60 134.40,450.00" fill="none" stroke="#111" stroke-width="0.8"/>
<text class="a" x="120.00" y="390.86" font-size="15.5" text-anchor="middle">*</text>
<polyline points="102.50,595.75 102.50,574.80 134.40,574.80 134.40,627.00" fill="none" stroke="#111" stroke-width="0.8"/>
<text class="a" x="120.20" y="570.56" font-size="15.5" text-anchor="middle">*</text>
<polyline points="117.30,759.30 117.30,748.30 203.50,748.30 203.50,759.30" fill="none" stroke="#111" stroke-width="0.8"/>
<polyline points="101.70,787.00 101.70,759.30 133.60,759.30 133.60,773.00" fill="none" stroke="#111" stroke-width="0.8"/>
<polyline points="187.60,791.50 187.60,759.30 219.30,759.30 219.30,777.20" fill="none" stroke="#111" stroke-width="0.8"/>
<text class="a" x="163.60" y="742.80" font-size="8.5" text-anchor="middle" textLength="13.6" lengthAdjust="spacingAndGlyphs"># #</text>
<rect x="490.55" y="226.85" width="16.5" height="8.4" rx="0.8" fill="#fff" stroke="#000" stroke-width="1.3"/>
<rect x="489.9" y="243.2" width="17.8" height="9.8" rx="0.8" fill="#000"/>
<text class="n" x="516.30" y="235.60" font-size="13" textLength="18.4" lengthAdjust="spacingAndGlyphs">WT</text>
<text class="n" x="516.50" y="252.70" font-size="13" textLength="16.2" lengthAdjust="spacingAndGlyphs">HD</text>
</svg></body></html>
